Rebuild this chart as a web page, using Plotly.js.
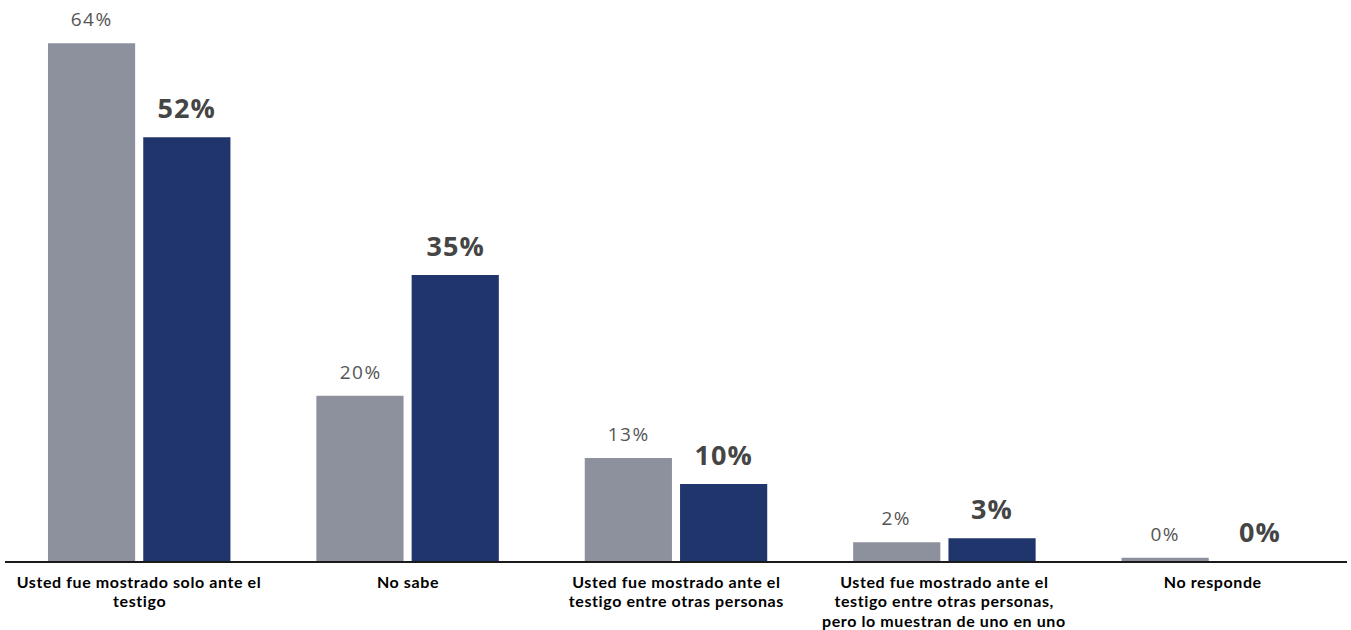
<!DOCTYPE html>
<html>
<head>
<meta charset="utf-8">
<script src="https://cdn.plot.ly/plotly-3.0.1.min.js"></script>
<style>
  html, body { margin: 0; padding: 0; background: #fff; }
  #chart { width: 1351px; height: 630px; }
</style>
</head>
<body>
<div id="chart"></div>
<script>
var categories = [
  "Usted fue mostrado solo ante el<br>testigo",
  "No sabe",
  "Usted fue mostrado ante el<br>testigo entre otras personas",
  "Usted fue mostrado ante el<br>testigo entre otras personas,<br>pero lo muestran de uno en uno",
  "No responde"
];
var seriesGrey = [63.9, 20.4, 12.7, 2.3, 0.4];
var seriesNavy = [52.3, 35.3, 9.5, 2.8, 0];

var greyColor = "#8d919d";
var navyColor = "#20356b";

var traces = [
  {type: "bar", x: categories, y: seriesGrey, marker: {color: greyColor}, hoverinfo: "none", showlegend: false},
  {type: "bar", x: categories, y: seriesNavy, marker: {color: navyColor}, hoverinfo: "none", showlegend: false}
];

var offset = 0.177;
var annotations = [];
seriesGrey.forEach(function (v, i) {
  annotations.push({
    x: i - offset, y: v, xref: "x", yref: "y",
    text: Math.round(v) + "%", showarrow: false,
    yanchor: "bottom", yshift: 9,
    font: {family: "Open Sans, sans-serif", size: 19, color: "#555555"}
  });
});
seriesNavy.forEach(function (v, i) {
  annotations.push({
    x: i + offset, y: v, xref: "x", yref: "y",
    text: Math.round(v) + "%", showarrow: false,
    yanchor: "bottom", yshift: 9,
    font: {family: "Open Sans, sans-serif", size: 27, color: "#454545", weight: "bold"}
  });
});
// category labels, one line per annotation for tighter line spacing
categories.forEach(function (c, i) {
  c.split("<br>").forEach(function (line, j) {
    annotations.push({
      x: i, y: 0, xref: "x", yref: "y",
      text: line, showarrow: false,
      yanchor: "middle", yshift: -20 - 19.5 * j,
      borderpad: 0,
      font: {family: "Lato, sans-serif", size: 16, color: "#000000", weight: "bold"}
    });
  });
});

var layout = {
  width: 1351, height: 630,
  margin: {l: 5, r: 4, t: 10, b: 69},
  paper_bgcolor: "#ffffff", plot_bgcolor: "#ffffff",
  barmode: "group", bargap: 0.29, bargroupgap: 0.085,
  xaxis: {
    type: "category",
    showline: true, linecolor: "#1a1a1a", linewidth: 1.5,
    ticks: "", showgrid: false, zeroline: false, showticklabels: false
  },
  yaxis: {range: [0, 68], visible: false, showgrid: false, zeroline: false},
  annotations: annotations
};

Plotly.newPlot("chart", traces, layout, {displayModeBar: false, staticPlot: true}).then(function () {
  var nodes = document.querySelectorAll("#chart .annotation-text");
  nodes.forEach(function (n, i) {
    if (i < seriesGrey.length) { n.style.letterSpacing = "1.5px"; }
    else if (i < seriesGrey.length + seriesNavy.length) { n.style.letterSpacing = "1px"; }
    else { n.style.letterSpacing = "0.6px"; }
  });
});
</script>
</body>
</html>
